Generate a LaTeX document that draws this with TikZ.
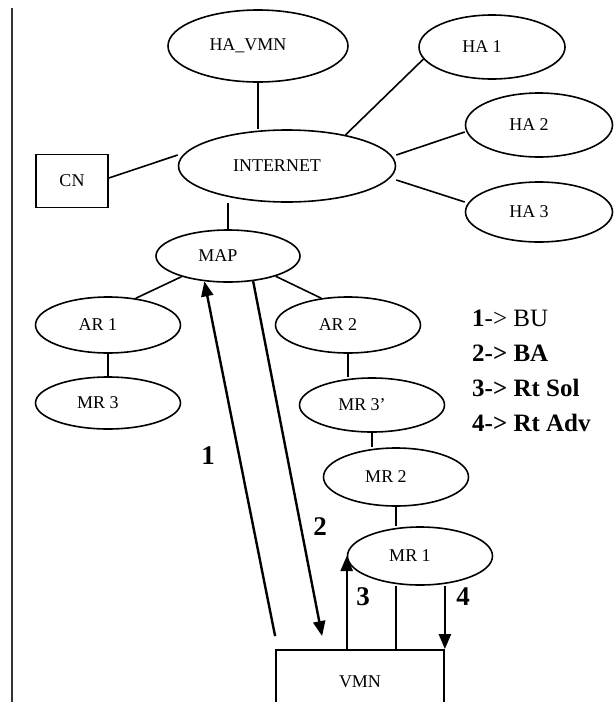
\documentclass[tikz,border=0pt]{standalone}
\usepackage{fontspec}
\setmainfont{Liberation Serif}
\usetikzlibrary{arrows.meta,shapes.geometric}

\begin{document}
\begin{tikzpicture}[
  x=1pt, y=-1pt,
  ell/.style={draw, ellipse, line width=1.6pt, inner sep=0pt, minimum width=145pt,
              font=\fontsize{18}{20}\selectfont,
              execute at begin node={\hspace*{-20pt}}},
  box/.style={draw, rectangle, line width=1.8pt, inner sep=0pt,
              font=\fontsize{18}{20}\selectfont},
  link/.style={line width=1.6pt},
  arr/.style={-{Triangle[length=15pt,width=12pt]}, line width=2.4pt},
  num/.style={font=\bfseries\fontsize{27}{30}\selectfont}
]
\useasboundingbox (0,0) rectangle (616,702);
\draw[line width=2.5pt, black!80] (12,8) -- (12,702);

\node[ell, minimum width=180pt, minimum height=72pt] (havmn) at (258,46) {HA\_VMN};
\node[ell, minimum width=146pt, minimum height=64pt] (ha1) at (492,47) {HA 1};
\node[ell, minimum width=147pt, minimum height=64pt] (ha2) at (539,125) {HA 2};
\node[ell, minimum width=147pt, minimum height=60pt] (ha3) at (539,212) {HA 3};
\node[ell, minimum width=217pt, minimum height=72pt] (inet) at (287,166) {INTERNET};
\node[box, minimum width=72pt, minimum height=53pt] (cn) at (72,181) {CN};

\node[ell, minimum width=144pt, minimum height=52pt] (map) at (228,256) {MAP};
\node[ell, minimum height=56pt] (ar1) at (108,325) {AR 1};
\node[ell, minimum height=52pt] (mr3) at (108,403) {MR 3};
\node[ell, minimum height=56pt] (ar2) at (348,325) {AR 2};
\node[ell, minimum height=54pt] (mr3b) at (372,405) {MR 3'};
\node[ell, minimum height=58pt] (mr2) at (396,477) {MR 2};
\node[ell, minimum height=58pt] (mr1) at (420,556) {MR 1};
\node[box, minimum width=168pt, minimum height=64pt] (vmn) at (360,682) {VMN};

% internet side
\draw[link] (havmn.south) -- (havmn.south |- inet.north);
\draw[link] (inet.28) -- (ha1.190);
\draw[link] ([yshift=11pt]inet.east) -- ([yshift=-7pt]ha2.west);
\draw[link] ([yshift=-14pt]inet.east) -- ([yshift=10pt]ha3.west);
\draw[link] ([yshift=3pt]cn.east) -- ([yshift=11pt]inet.west);
\draw[link] (map.north) -- (map.north |- inet.south);

% access tree
\draw[link] (map.204) -- (ar1.44);
\draw[link] (map.-23) -- (ar2.135);
\draw[link] (ar1) -- (mr3);
\draw[link] (ar2.south) -- (ar2.south |- mr3b.north);
\draw[link] (mr3b.south) -- (mr3b.south |- mr2.north);
\draw[link] (mr2.south) -- (mr2.south |- mr1.north);
\draw[link] (mr2.south |- mr1.south) -- (mr2.south |- vmn.north);

% messages
\draw[arr] ([yshift=13pt]vmn.north west) -- (map.227);
\draw[arr] (map.-45) -- ([xshift=47pt,yshift=13pt]vmn.north west);
\draw[arr] (mr1.west |- vmn.north) -- (mr1.west);
\draw[arr] (vmn.north east |- mr1.south) -- (vmn.north east);

\node[num] (n1) at (208,456) {1};
\node[num] (n2) at (320,527) {2};
\node[num] (n3) at (363,597) {3};
\node[num] (n4) at (463,597) {4};

\node[anchor=north west, align=left, inner sep=0pt,
      font=\fontsize{25}{35}\selectfont] (key) at (472,310)
  {\textbf{1}-> BU\\ \textbf{2-> BA}\\ \textbf{3-> Rt Sol}\\ \textbf{4-> Rt Adv}};
\end{tikzpicture}
\end{document}
